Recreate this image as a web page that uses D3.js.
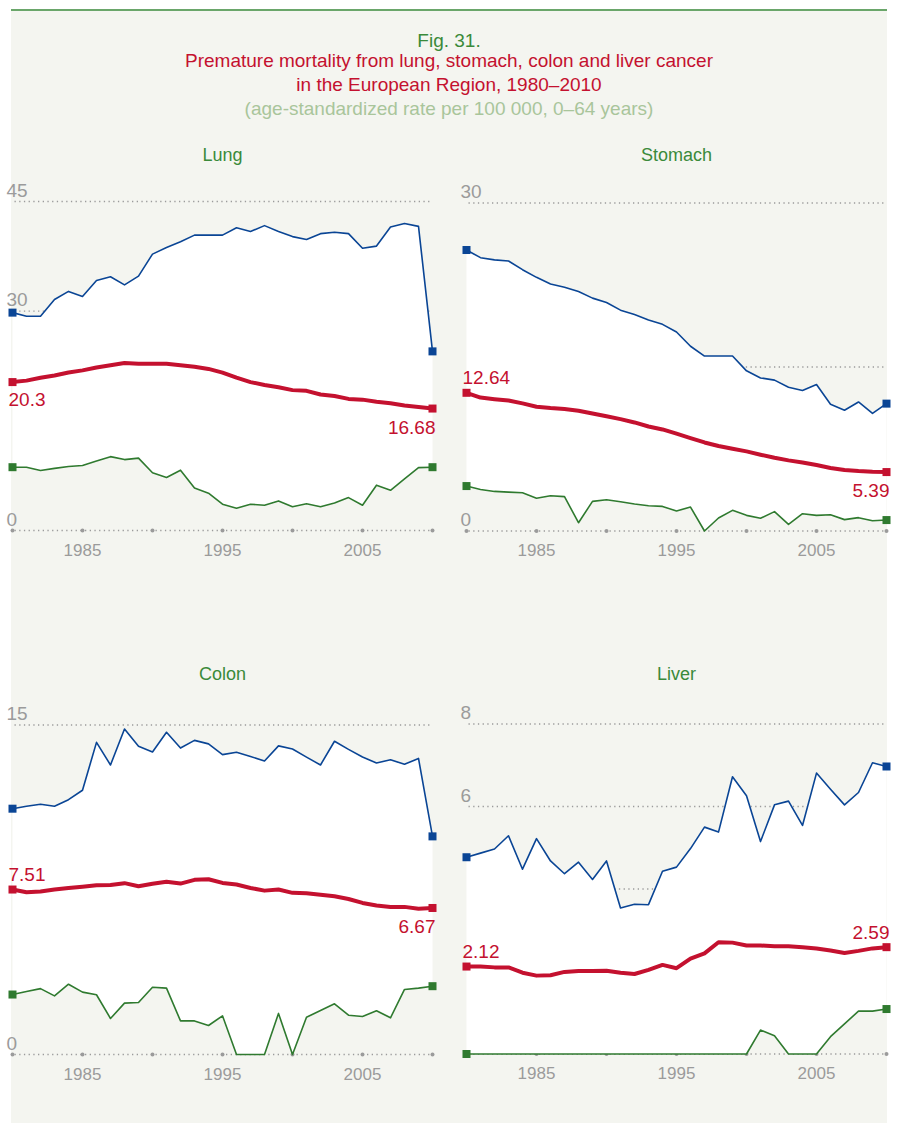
<!DOCTYPE html>
<html lang="en">
<head>
<meta charset="UTF-8">
<title>Fig. 31. Premature mortality from lung, stomach, colon and liver cancer</title>
<script src="https://d3js.org/d3.v7.min.js"></script>
<style>
    body { margin: 0; background: #fff; }
    svg { display: block; font-family: "Liberation Sans", Arial, sans-serif; }
</style>
</head>
<body>
<svg id="chart" width="897" height="1123"></svg>
<script>
    // years on the x axis
    var years = [1980, 1981, 1982, 1983, 1984, 1985, 1986, 1987, 1988, 1989,
                 1990, 1991, 1992, 1993, 1994, 1995, 1996, 1997, 1998, 1999,
                 2000, 2001, 2002, 2003, 2004, 2005, 2006, 2007, 2008, 2009, 2010];
    var yearLabels = [1985, 1995, 2005];
    var yearDots = [1980, 1985, 1990, 1995, 2000, 2005, 2010];

    // lung: highest country, regional average, lowest country
    var lungMax = [29.8, 29.3, 29.3, 31.6, 32.7, 32.0, 34.2, 34.7, 33.6, 34.8, 37.8, 38.7, 39.5, 40.4, 40.4, 40.4,
                   41.4, 40.9, 41.7, 40.9, 40.2, 39.8, 40.6, 40.8, 40.6, 38.6, 38.9, 41.5, 42.0, 41.6, 24.5];
    var lungAvg = [20.3, 20.5, 20.9, 21.2, 21.6, 21.9, 22.3, 22.6, 22.9, 22.8, 22.8, 22.8, 22.6, 22.4, 22.1, 21.6,
                   20.9, 20.3, 19.9, 19.6, 19.2, 19.1, 18.6, 18.4, 18.0, 17.9, 17.6, 17.4, 17.1, 16.9, 16.68];
    var lungMin = [8.66, 8.66, 8.2, 8.5, 8.75, 8.9, 9.5, 10.1, 9.7, 9.9, 7.9, 7.25, 8.25, 5.8, 5.1, 3.6,
                   3.05, 3.6, 3.45, 4.05, 3.25, 3.65, 3.25, 3.75, 4.5, 3.45, 6.2, 5.5, 7.05, 8.6, 8.66];
    var lungTicks = [0, 15, 30, 45];
    var lungTickLabels = [0, 30, 45];

    var stomachMax = [25.7, 25.0, 24.8, 24.7, 23.9, 23.2, 22.6, 22.3, 21.9, 21.3, 20.9, 20.2, 19.8, 19.3, 18.9, 18.2,
                      16.9, 16.0, 16.0, 16.0, 14.65, 14.0, 13.8, 13.15, 12.85, 13.4, 11.6, 11.05, 11.8, 10.75, 11.65];
    var stomachAvg = [12.64, 12.2, 12.06, 11.94, 11.67, 11.36, 11.24, 11.15, 11.0, 10.75, 10.5, 10.23, 9.93, 9.56, 9.29, 8.9,
                      8.5, 8.1, 7.77, 7.52, 7.28, 6.98, 6.7, 6.46, 6.27, 6.03, 5.76, 5.57, 5.48, 5.42, 5.39];
    var stomachMin = [4.11, 3.8, 3.62, 3.56, 3.5, 3.0, 3.23, 3.14, 0.76, 2.71, 2.86, 2.68, 2.47, 2.31, 2.25, 1.83,
                      2.19, 0, 1.19, 1.89, 1.43, 1.16, 1.77, 0.61, 1.58, 1.43, 1.49, 1.04, 1.22, 0.94, 1.0];
    var stomachTicks = [0, 15, 30];
    var stomachTickLabels = [0, 30];

    var colonMax = [11.19, 11.3, 11.39, 11.3, 11.6, 12.03, 14.21, 13.18, 14.82, 14.03, 13.77, 14.67, 13.95, 14.3, 14.14, 13.65,
                    13.76, 13.57, 13.36, 14.05, 13.91, 13.54, 13.18, 14.26, 13.89, 13.54, 13.27, 13.42, 13.21, 13.48, 9.93];
    var colonAvg = [7.51, 7.39, 7.42, 7.51, 7.58, 7.64, 7.71, 7.72, 7.8, 7.66, 7.77, 7.86, 7.78, 7.95, 7.98, 7.81,
                    7.74, 7.58, 7.46, 7.51, 7.36, 7.34, 7.27, 7.2, 7.08, 6.9, 6.78, 6.72, 6.72, 6.64, 6.67];
    var colonMin = [2.73, 2.87, 3.0, 2.67, 3.2, 2.84, 2.72, 1.64, 2.34, 2.37, 3.06, 3.02, 1.53, 1.53, 1.32, 1.76,
                    0, 0, 0, 1.87, 0, 1.7, 2.0, 2.31, 1.79, 1.73, 1.99, 1.67, 2.96, 3.02, 3.11];
    var colonTicks = [0, 5, 10, 15];
    var colonTickLabels = [0, 15];

    var liverMax = [4.77, 4.87, 4.97, 5.29, 4.48, 5.22, 4.68, 4.37, 4.65, 4.23, 4.68, 3.54, 3.63, 3.62, 4.43, 4.53,
                    4.98, 5.5, 5.38, 6.72, 6.26, 5.15, 6.04, 6.13, 5.54, 6.81, 6.42, 6.04, 6.34, 7.06, 6.97];
    var liverAvg = [2.12, 2.12, 2.1, 2.1, 1.97, 1.9, 1.91, 1.99, 2.01, 2.01, 2.02, 1.97, 1.94, 2.04, 2.16, 2.08,
                    2.31, 2.44, 2.71, 2.7, 2.63, 2.63, 2.61, 2.61, 2.59, 2.56, 2.51, 2.45, 2.5, 2.56, 2.59];
    var liverMin = [0, 0, 0, 0, 0, 0, 0, 0, 0, 0, 0, 0, 0, 0, 0, 0,
                    0, 0, 0, 0, 0, 0.58, 0.44, 0, 0, 0, 0.42, 0.73, 1.04, 1.04, 1.09];
    var liverTicks = [0, 2, 4, 6, 8];
    var liverTickLabels = [6, 8];

    var blue = "#0a4595", red = "#c4112f", green = "#2f7a2f", grey = "#9b9b9b";

    var panels = [
        {name: "Lung", max: lungMax, avg: lungAvg, min: lungMin, ticks: lungTicks, tickLabels: lungTickLabels,
         x0: 12.5, x1: 432.5, yBase: 530.5, yTop: 201.5, titleY: 161, startAbove: false, endAbove: false},
        {name: "Stomach", max: stomachMax, avg: stomachAvg, min: stomachMin, ticks: stomachTicks, tickLabels: stomachTickLabels,
         x0: 466.5, x1: 886.5, yBase: 531, yTop: 203, titleY: 161, startAbove: true, endAbove: false},
        {name: "Colon", max: colonMax, avg: colonAvg, min: colonMin, ticks: colonTicks, tickLabels: colonTickLabels,
         x0: 12.5, x1: 432.5, yBase: 1054.5, yTop: 725, titleY: 680, startAbove: true, endAbove: false},
        {name: "Liver", max: liverMax, avg: liverAvg, min: liverMin, ticks: liverTicks, tickLabels: liverTickLabels,
         x0: 466.5, x1: 886.5, yBase: 1054, yTop: 724, titleY: 680, startAbove: true, endAbove: true}
    ];

    var svg = d3.select("#chart");

    // page background and top rule
    svg.append("rect").attr("x", 11).attr("y", 10).attr("width", 876).attr("height", 1113).attr("fill", "#f4f5f0");
    svg.append("rect").attr("x", 11).attr("y", 9).attr("width", 876).attr("height", 2).attr("fill", "#6aa66a");

    var head = svg.append("g").attr("text-anchor", "middle").style("font-size", "19px");
    head.append("text").attr("x", 449).attr("y", 47).attr("fill", "#3a8a3a").text("Fig. 31.");
    head.append("text").attr("x", 449).attr("y", 67).attr("fill", red)
        .text("Premature mortality from lung, stomach, colon and liver cancer");
    head.append("text").attr("x", 449).attr("y", 91).attr("fill", red).text("in the European Region, 1980\u20132010");
    head.append("text").attr("x", 449).attr("y", 115).attr("fill", "#a9c59b")
        .text("(age-standardized rate per 100\u00a0000, 0\u201364 years)");

    panels.forEach(drawPanel);

    function drawPanel(p) {
        var xs = d3.scaleLinear().domain([1980, 2010]).range([p.x0, p.x1]);
        var ys = d3.scaleLinear().domain([0, d3.max(p.ticks)]).range([p.yBase, p.yTop]);
        var g = svg.append("g");

        g.append("text")
            .attr("x", (p.x0 + p.x1) / 2).attr("y", p.titleY)
            .attr("text-anchor", "middle").attr("fill", "#3a8a3a")
            .style("font-size", "18px")
            .text(p.name);

        // dotted gridlines
        g.selectAll(".grid").data(p.ticks).enter().append("line")
            .attr("x1", p.x0 + 2).attr("x2", p.x1 - 1)
            .attr("y1", d => ys(d)).attr("y2", d => ys(d))
            .attr("stroke", grey).attr("stroke-width", 1.3)
            .attr("stroke-dasharray", "1.3,3.4");

        g.selectAll(".ydot").data(yearDots).enter().append("circle")
            .attr("cx", d => xs(d)).attr("cy", ys(0)).attr("r", 2)
            .attr("fill", grey);

        g.selectAll(".tick").data(p.tickLabels).enter().append("text")
            .attr("x", p.x0 - 6).attr("y", d => ys(d) - 5)
            .attr("fill", grey).style("font-size", "19px")
            .text(d => d);

        g.selectAll(".year").data(yearLabels).enter().append("text")
            .attr("x", d => xs(d)).attr("y", p.yBase + 25)
            .attr("text-anchor", "middle").attr("fill", grey)
            .style("font-size", "17px")
            .text(d => d);

        // white range between lowest and highest country
        var band = d3.area()
            .x((d, i) => xs(years[i]))
            .y0((d, i) => ys(p.min[i]))
            .y1(d => ys(d));
        g.append("path").datum(p.max).attr("d", band).attr("fill", "#fff");

        var series = [
            {values: p.min, color: green, width: 1.6},
            {values: p.max, color: blue, width: 1.6},
            {values: p.avg, color: red, width: 4}
        ];
        var line = d3.line().x((d, i) => xs(years[i])).y(d => ys(d));

        series.forEach(function (s) {
            g.append("path").datum(s.values).attr("d", line)
                .attr("fill", "none").attr("stroke", s.color)
                .attr("stroke-width", s.width)
                .attr("stroke-linejoin", "round");
        });

        series.forEach(function (s) {
            var n = s.values.length - 1;
            g.selectAll(null).data([0, n]).enter().append("rect")
                .attr("x", i => xs(years[i]) - 4)
                .attr("y", i => ys(s.values[i]) - 4)
                .attr("width", 8).attr("height", 8)
                .attr("fill", s.color);
        });

        var last = p.avg.length - 1;
        g.append("text")
            .attr("x", p.x0 - 4)
            .attr("y", ys(p.avg[0]) + (p.startAbove ? -9 : 24))
            .attr("fill", red).style("font-size", "19px")
            .text(p.avg[0]);
        g.append("text")
            .attr("x", p.x1 + 3)
            .attr("y", ys(p.avg[last]) + (p.endAbove ? -8 : 25))
            .attr("text-anchor", "end")
            .attr("fill", red).style("font-size", "19px")
            .text(p.avg[last]);
    }
</script>
</body>
</html>
